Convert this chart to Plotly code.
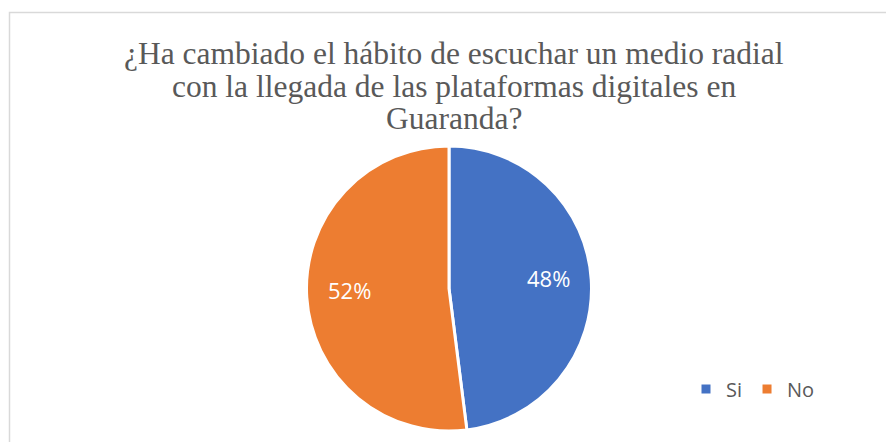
import math
import plotly.graph_objects as go

# Survey answers
labels = ["Si", "No"]
values = [48, 52]
colors = ["#4472C4", "#ED7D31"]

title_lines = [
    "¿Ha cambiado el hábito de escuchar un medio radial",
    "con la llegada de las plataformas digitales en",
    "Guaranda?",
]

# the page adds an 8px body margin, so the figure is a bit smaller than the window
OFF = 8
W, H = 894 - OFF, 442 - OFF


def px(x):
    return (x - OFF) / W


def py(y):
    return 1 - (y - OFF) / H


# pie placement (window pixels)
left, right, top, bottom = 306.5, 591.5, 146, 431

fig = go.Figure()

fig.add_trace(go.Pie(
    labels=labels,
    values=values,
    sort=False,
    direction="clockwise",
    rotation=0,
    marker=dict(colors=colors, line=dict(color="white", width=3)),
    textinfo="none",
    domain=dict(x=[px(left), px(right)], y=[py(bottom), py(top)]),
    hoverinfo="label+percent",
))

# percentage labels, placed at 70% of the radius on each slice's mid angle
cx, cy = px((left + right) / 2), py((top + bottom) / 2)
rx, ry = (right - left) / 2 / W, (bottom - top) / 2 / H
total = sum(values)
annotations = []
start = 0
for v in values:
    mid = (start + v / 2) / total * 2 * math.pi
    start += v
    annotations.append(dict(
        x=cx + 0.7 * rx * math.sin(mid), y=cy + 0.7 * ry * math.cos(mid) + 0.01,
        xref="paper", yref="paper", showarrow=False,
        text=f"{round(v / total * 100)}%",
        font=dict(family="Open Sans", size=22, color="white"),
    ))

# title, one annotation per line (Word-style tight line spacing)
for line, centre_y in zip(title_lines, [54, 86, 118]):
    annotations.append(dict(
        x=px(454), y=py(centre_y), xref="paper", yref="paper",
        xanchor="center", yanchor="middle", showarrow=False,
        text=line,
        font=dict(family="Liberation Serif", size=31.5, color="#595959"),
    ))

fig.update_layout(
    width=W,
    height=H,
    margin=dict(l=0, r=0, t=0, b=0),
    paper_bgcolor="white",
    plot_bgcolor="white",
    showlegend=True,
    legend=dict(
        orientation="h",
        x=px(686),
        xanchor="left",
        y=py(389),
        yanchor="middle",
        font=dict(family="Open Sans", size=20, color="#595959"),
        traceorder="normal",
    ),
    annotations=annotations,
    shapes=[
        dict(type="rect", xref="paper", yref="paper",
             x0=px(9.5), x1=1.05, y0=-0.05, y1=py(12.5),
             line=dict(color="#D9D9D9", width=1.5), fillcolor="rgba(0,0,0,0)"),
    ],
)

fig.write_html("out.html")
